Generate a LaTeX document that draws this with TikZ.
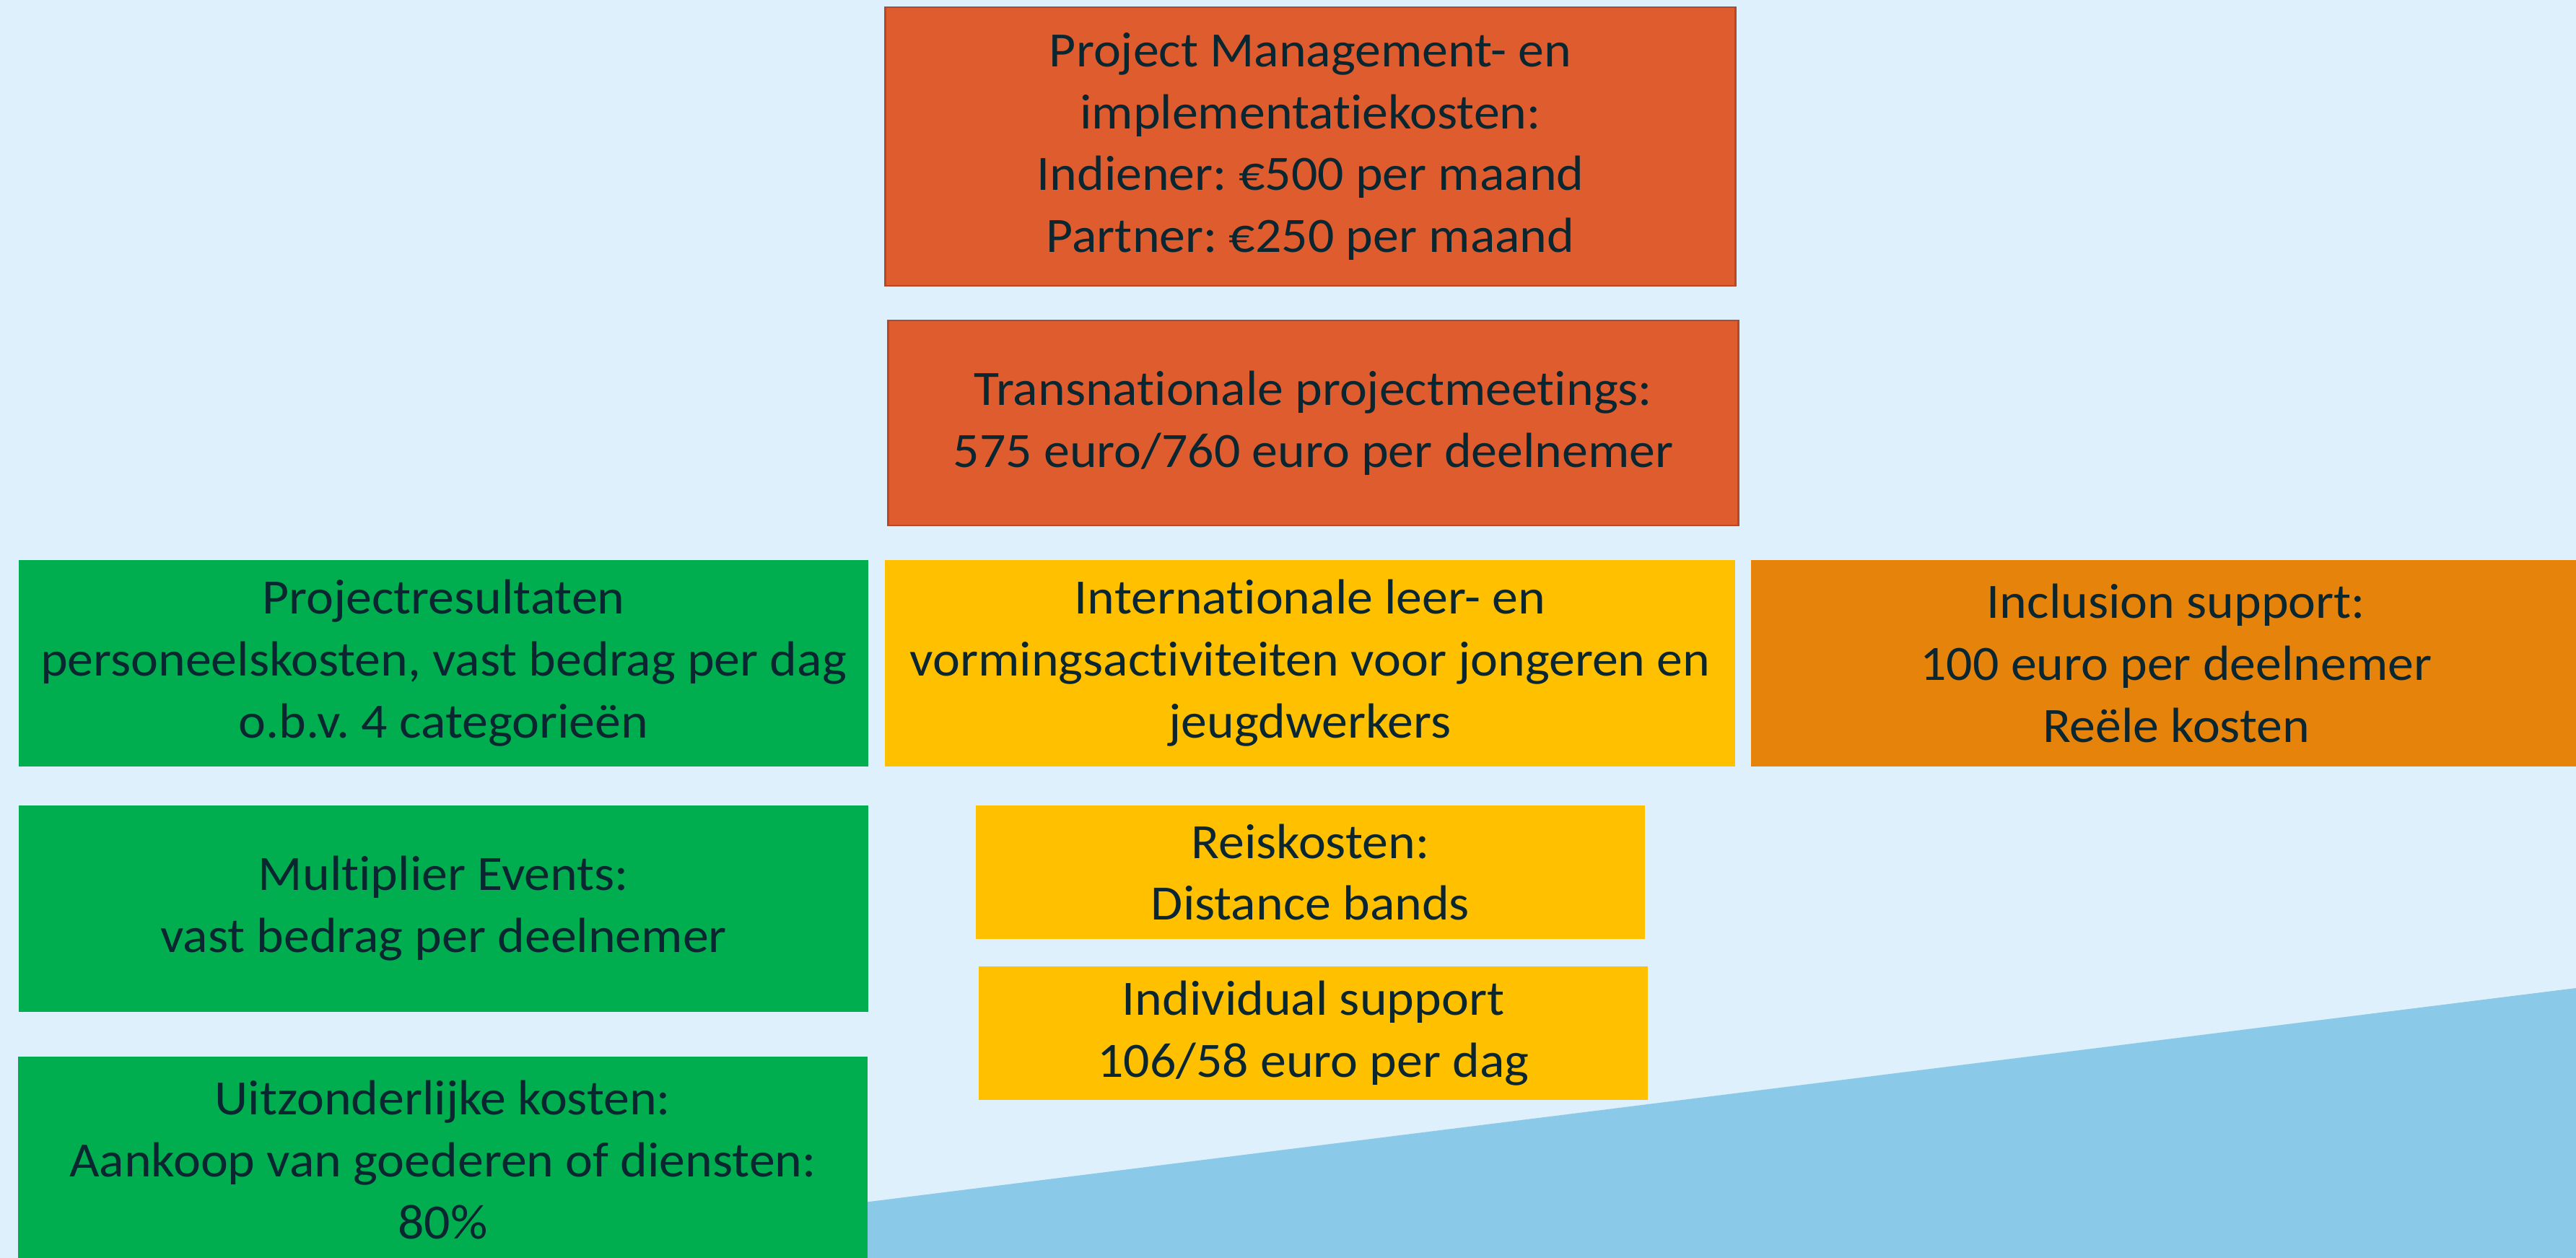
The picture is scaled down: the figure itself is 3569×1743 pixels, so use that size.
\documentclass[tikz,border=0pt]{standalone}
\usepackage{fontspec}
\setmainfont{Carlito}[Ligatures=CommonOff, FakeStretch=1.05]
\frenchspacing
\definecolor{bgblue}{HTML}{DDF0FB}
\definecolor{triblue}{HTML}{8BC9E8}
\definecolor{redorange}{HTML}{DF5C2E}
\definecolor{redborder}{HTML}{B04A2A}
\definecolor{boxgreen}{HTML}{00AE50}
\definecolor{boxyellow}{HTML}{FFC000}
\definecolor{boxorange}{HTML}{E6830B}
\definecolor{txtdark}{HTML}{0A2630}
\begin{document}
\begin{tikzpicture}[x=0.26898pt,y=-0.26898pt,
  box/.style={rectangle, inner sep=0pt, align=center, text=txtdark,
    font=\fontsize{18.4}{23.1}\selectfont\frenchspacing},
  bigbox/.style={box, minimum width=316.8pt, minimum height=76.9pt},
  smallbox/.style={box, minimum width=249.3pt, minimum height=49.8pt},
  redbox/.style={bigbox, fill=redorange, draw=redborder, line width=0.7pt},
  greenbox/.style={bigbox, fill=boxgreen},
  yellowbox/.style={bigbox, fill=boxyellow},
  yellowsmall/.style={smallbox, fill=boxyellow},
  orangebox/.style={bigbox, fill=boxorange}]
\useasboundingbox (0,0) rectangle (3569,1743);
\fill[bgblue] (0,0) rectangle (3569,1743);
\fill[triblue] (1000,1690.6) -- (3569,1369) -- (3569,1743) -- (1000,1743) -- cycle;

\node[redbox, minimum height=103.8pt] (pm) at (1815.5,203)
  {Project Management- en\\implementatiekosten:\\Indiener: €500 per maand\\Partner: €250 per maand};
\node[redbox, minimum height=76.4pt] (tpm) at (1819.5,586)
  {Transnationale projectmeetings:\\575 euro/760 euro per deelnemer};

\node[greenbox] (pr) at (614.5,919)
  {Projectresultaten\\personeelskosten, vast bedrag per dag\\o.b.v. 4 categorieën};
\node[yellowbox] (ilv) at (1815,919)
  {Internationale leer- en\\vormingsactiviteiten voor jongeren en\\jeugdwerkers};
\node[orangebox] (inc) at (3015,919)
  {Inclusion support:\\100 euro per deelnemer\\Reële kosten};

\node[greenbox] (me) at (614.5,1259)
  {Multiplier Events:\\vast bedrag per deelnemer};
\node[yellowsmall] (rk) at (1815.5,1208.5)
  {Reiskosten:\\Distance bands};
\node[yellowsmall] (is) at (1819.5,1431.5)
  {Individual support\\106/58 euro per dag};

\node[greenbox] (uk) at (613.5,1607)
  {Uitzonderlijke kosten:\\Aankoop van goederen of diensten:\\80\%};
\end{tikzpicture}
\end{document}
